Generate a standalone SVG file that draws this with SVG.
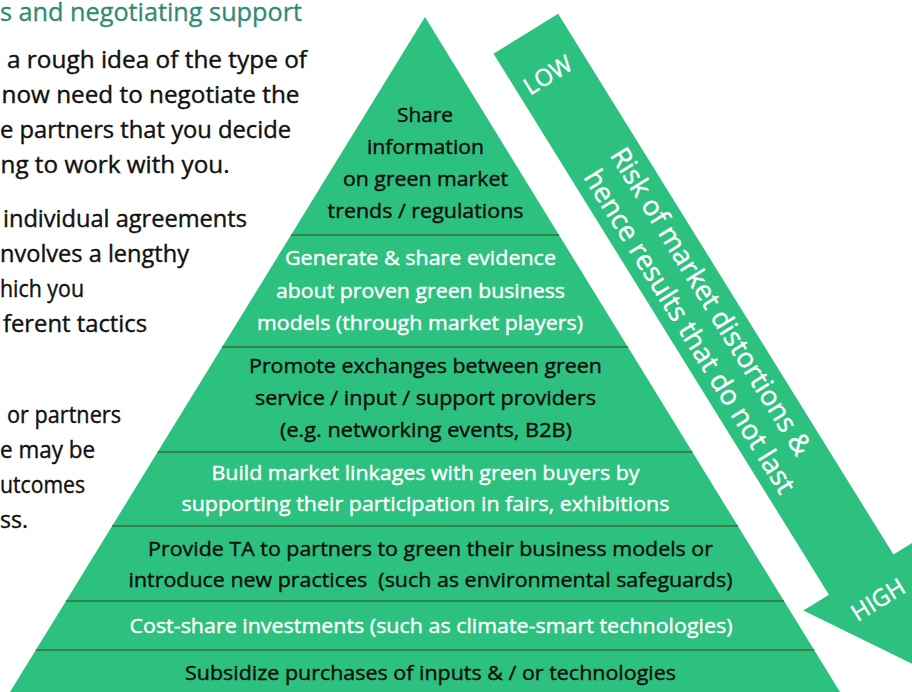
<svg xmlns="http://www.w3.org/2000/svg" width="912" height="692" viewBox="0 0 912 692">
  <style>
    .g { fill: #2dc17f; }
    .div { stroke: #37834a; stroke-width: 2; fill: none; }
    .pt { font-family: "Open Sans", "Liberation Sans", sans-serif; font-size: 20.5px; text-anchor: middle; stroke-width: 0.4px; white-space: pre; }
    .blk { fill: #0d0d0d; stroke: #0d0d0d; }
    .wht { fill: #ffffff; stroke: #ffffff; }
    .body { font-family: "Open Sans", "Liberation Sans", sans-serif; font-size: 24px; fill: #111111; stroke: #111111; stroke-width: 0.4px; }
    .title { font-family: "Open Sans", "Liberation Sans", sans-serif; font-size: 25px; fill: #2f8a76; stroke: #2f8a76; stroke-width: 0.3px; }
    .arr { font-family: "Open Sans", "Liberation Sans", sans-serif; fill: #ffffff; stroke: #ffffff; stroke-width: 0.4px; }
  </style>
  <rect width="912" height="692" fill="#ffffff"/>

  <g id="left-text">
    <text class="title" x="0" y="21" textLength="302" lengthAdjust="spacingAndGlyphs">s and negotiating support</text>
    <text class="body" x="7" y="68" textLength="300" lengthAdjust="spacingAndGlyphs">a rough idea of the type of</text>
    <text class="body" x="1.5" y="102.5" textLength="298" lengthAdjust="spacingAndGlyphs">now need to negotiate the</text>
    <text class="body" x="0" y="137.5" textLength="291" lengthAdjust="spacingAndGlyphs">e partners that you decide</text>
    <text class="body" x="0.5" y="173" textLength="229" lengthAdjust="spacingAndGlyphs">ng to work with you.</text>
    <text class="body" x="3" y="227" textLength="244" lengthAdjust="spacingAndGlyphs">individual agreements</text>
    <text class="body" x="0" y="262" textLength="189" lengthAdjust="spacingAndGlyphs">nvolves a lengthy</text>
    <text class="body" x="0" y="297" textLength="84" lengthAdjust="spacingAndGlyphs">hich you</text>
    <text class="body" x="3" y="332" textLength="144" lengthAdjust="spacingAndGlyphs">ferent tactics</text>
    <text class="body" x="7" y="423" textLength="114" lengthAdjust="spacingAndGlyphs">or partners</text>
    <text class="body" x="0" y="458" textLength="95" lengthAdjust="spacingAndGlyphs">e may be</text>
    <text class="body" x="0" y="493" textLength="85" lengthAdjust="spacingAndGlyphs">utcomes</text>
    <text class="body" x="0" y="528" textLength="28" lengthAdjust="spacingAndGlyphs">ss.</text>
  </g>

  <g id="layer1">
    <polygon class="g" points="425,17 559,235 291,235"/>
    <text class="pt blk" x="425" y="122" textLength="56" lengthAdjust="spacingAndGlyphs">Share</text>
    <text class="pt blk" x="425.5" y="153.5" textLength="117" lengthAdjust="spacingAndGlyphs">information</text>
    <text class="pt blk" x="425.5" y="185.5" textLength="165" lengthAdjust="spacingAndGlyphs">on green market</text>
    <text class="pt blk" x="425.5" y="218" textLength="196" lengthAdjust="spacingAndGlyphs">trends / regulations</text>
  </g>
  <g id="layer2">
    <polygon class="g" points="291,235 559,235 627.9,347 222.1,347"/>
    <text class="pt wht" x="420.5" y="265" textLength="271" lengthAdjust="spacingAndGlyphs">Generate &amp; share evidence</text>
    <text class="pt wht" x="420.5" y="298" textLength="289" lengthAdjust="spacingAndGlyphs">about proven green business</text>
    <text class="pt wht" x="420" y="330" textLength="326" lengthAdjust="spacingAndGlyphs">models (through market players)</text>
  </g>
  <g id="layer3">
    <polygon class="g" points="222.1,347 627.9,347 692.4,452 157.6,452"/>
    <text class="pt blk" x="425.5" y="373" textLength="353" lengthAdjust="spacingAndGlyphs">Promote exchanges between green</text>
    <text class="pt blk" x="425.5" y="405" textLength="341" lengthAdjust="spacingAndGlyphs">service / input / support providers</text>
    <text class="pt blk" x="426" y="437" textLength="292" lengthAdjust="spacingAndGlyphs">(e.g. networking events, B2B)</text>
  </g>
  <g id="layer4">
    <polygon class="g" points="157.6,452 692.4,452 737.9,526 112.1,526"/>
    <text class="pt wht" x="425.5" y="480" textLength="428" lengthAdjust="spacingAndGlyphs">Build market linkages with green buyers by</text>
    <text class="pt wht" x="425.5" y="511" textLength="488" lengthAdjust="spacingAndGlyphs">supporting their participation in fairs, exhibitions</text>
  </g>
  <g id="layer5">
    <polygon class="g" points="112.1,526 737.9,526 784,601 66,601"/>
    <text class="pt blk" x="430.5" y="556" textLength="565" lengthAdjust="spacingAndGlyphs">Provide TA to partners to green their business models or</text>
    <text class="pt blk" x="430.5" y="587" textLength="604" lengthAdjust="spacingAndGlyphs" xml:space="preserve">introduce new practices  (such as environmental safeguards)</text>
  </g>
  <g id="layer6">
    <polygon class="g" points="66,601 784,601 814.2,650 35.8,650"/>
    <text class="pt wht" x="431" y="633" textLength="603" lengthAdjust="spacingAndGlyphs">Cost-share investments (such as climate-smart technologies)</text>
  </g>
  <g id="layer7">
    <polygon class="g" points="35.8,650 814.2,650 840,692 10,692"/>
    <text class="pt blk" x="430.5" y="680" textLength="491" lengthAdjust="spacingAndGlyphs">Subsidize purchases of inputs &amp; / or technologies</text>
  </g>

  <g id="connectors">
    <line class="div" x1="291" y1="235" x2="559" y2="235"/>
    <line class="div" x1="222.1" y1="347" x2="627.9" y2="347"/>
    <line class="div" x1="157.6" y1="452" x2="692.4" y2="452"/>
    <line class="div" x1="112.1" y1="526" x2="737.9" y2="526"/>
    <line class="div" x1="66" y1="601" x2="784" y2="601"/>
    <line class="div" x1="35.8" y1="650" x2="814.2" y2="650"/>
  </g>

  <g id="risk-arrow" transform="translate(525.8,33.65) rotate(-31.8)">
    <polygon class="g" points="-38,0 38,0 38,636.5 68,636.5 0,745 -68,636.5 -38,636.5"/>
    <text class="arr" x="-3" y="55" font-size="23.5" text-anchor="middle">LOW</text>
    <text class="arr" x="1" y="675" font-size="23.5" text-anchor="middle">HIGH</text>
    <g transform="rotate(90)">
      <text class="arr" x="147" y="-7" font-size="27.5" textLength="356" lengthAdjust="spacingAndGlyphs">Risk of market distortions &amp;</text>
      <text class="arr" x="152" y="27" font-size="27.5" textLength="375" lengthAdjust="spacingAndGlyphs">hence results that do not last</text>
    </g>
  </g>
</svg>
